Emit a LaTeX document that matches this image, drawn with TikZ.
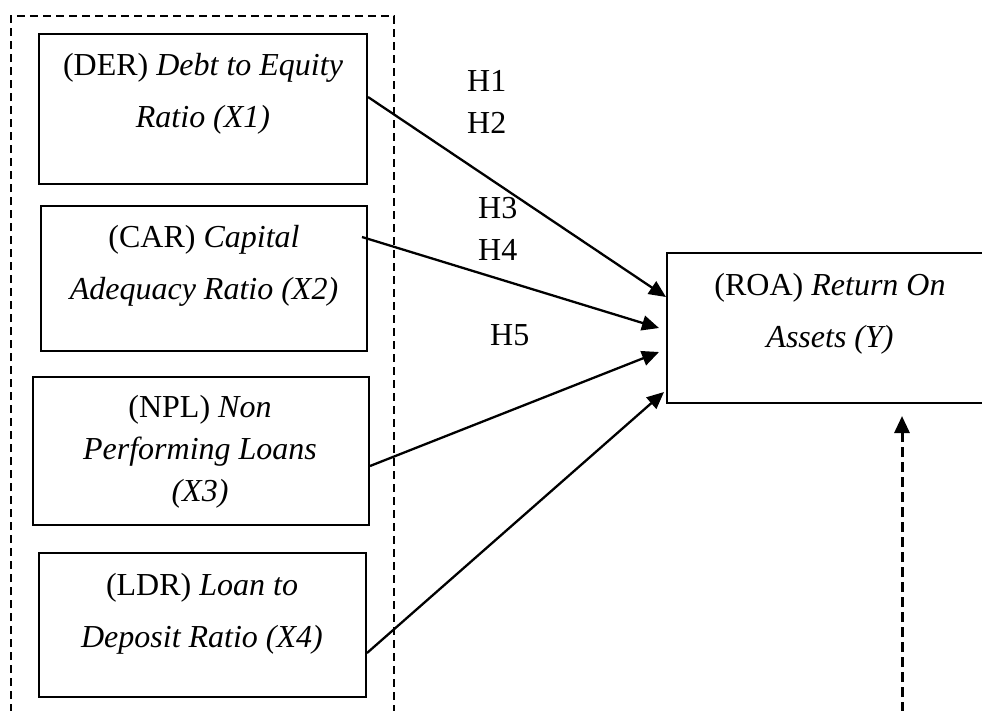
\documentclass[tikz,border=0pt]{standalone}
\usepackage{fontspec}
\setmainfont{Liberation Serif}
\usetikzlibrary{arrows.meta}
\begin{document}
\begin{tikzpicture}[x=1pt,y=-1pt,
  box/.style={draw, line width=2pt, rectangle, inner sep=0pt},
  txt/.style={align=center, inner sep=0pt, font=\fontsize{32}{52}\selectfont},
  txtnarrow/.style={align=center, inner sep=0pt, font=\fontsize{32}{42}\selectfont},
  hlab/.style={anchor=base west, inner sep=0pt, font=\fontsize{32}{38}\selectfont},
  arr/.style={line width=2.3pt, -{Triangle[length=17pt,width=15pt]}},
  dasharr/.style={line width=3pt, dash pattern=on 10pt off 5pt, -{Triangle[length=17pt,width=15pt]}},
  frame/.style={line width=1.5pt, dash pattern=on 8pt off 5pt}]
\useasboundingbox (0,0) rectangle (982,710);
% outer dashed frame
\draw[frame] (11,712) -- (11,16) -- (394,16) -- (394,712);
% boxes
\node[box, minimum width=328pt, minimum height=150pt] (der) at (203,109) {};
\node[box, minimum width=326pt, minimum height=145pt] (car) at (204,278.5) {};
\node[box, minimum width=336pt, minimum height=148pt] (npl) at (201,451) {};
\node[box, minimum width=327pt, minimum height=144pt] (ldr) at (202.5,625) {};
\node[box, minimum width=323pt, minimum height=150pt] (roa) at (828.5,328) {};
% texts
\node[txt] (dert) at (203,94) {(DER) \textit{Debt to Equity}\\\textit{Ratio (X1)}};
\node[txt] (cart) at (204,266) {(CAR) \textit{Capital}\\\textit{Adequacy Ratio (X2)}};
\node[txtnarrow] (nplt) at (200,452) {(NPL) \textit{Non}\\\textit{Performing Loans}\\\textit{(X3)}};
\node[txt] (ldrt) at (202,614) {(LDR) \textit{Loan to}\\\textit{Deposit Ratio (X4)}};
\node[txt] (roat) at (830,314) {(ROA) \textit{Return On}\\\textit{Assets (Y)}};
% hypothesis labels
\node[hlab] (h1) at (467,91) {H1};
\node[hlab] (h2) at (467,133) {H2};
\node[hlab] (h3) at (478,218) {H3};
\node[hlab] (h4) at (478,260) {H4};
\node[hlab] (h5) at (490,345) {H5};
% arrows
\draw[arr] ([yshift=12pt]der.east) -- ([yshift=31pt]roa.west);
\draw[arr] ([xshift=-6pt,yshift=41.5pt]car.east) -- ([xshift=-7pt]roa.west);
\draw[arr] ([yshift=-15pt]npl.east) -- ([xshift=-7pt,yshift=-24pt]roa.west);
\draw[arr] ([yshift=-28pt]ldr.east) -- ([xshift=-2pt,yshift=-64pt]roa.west);
% dashed arrow from below
\coordinate (ybase) at (902,712);
\draw[dasharr] (ybase) -- ([yshift=-12pt]roa.south -| ybase);
\end{tikzpicture}
\end{document}
